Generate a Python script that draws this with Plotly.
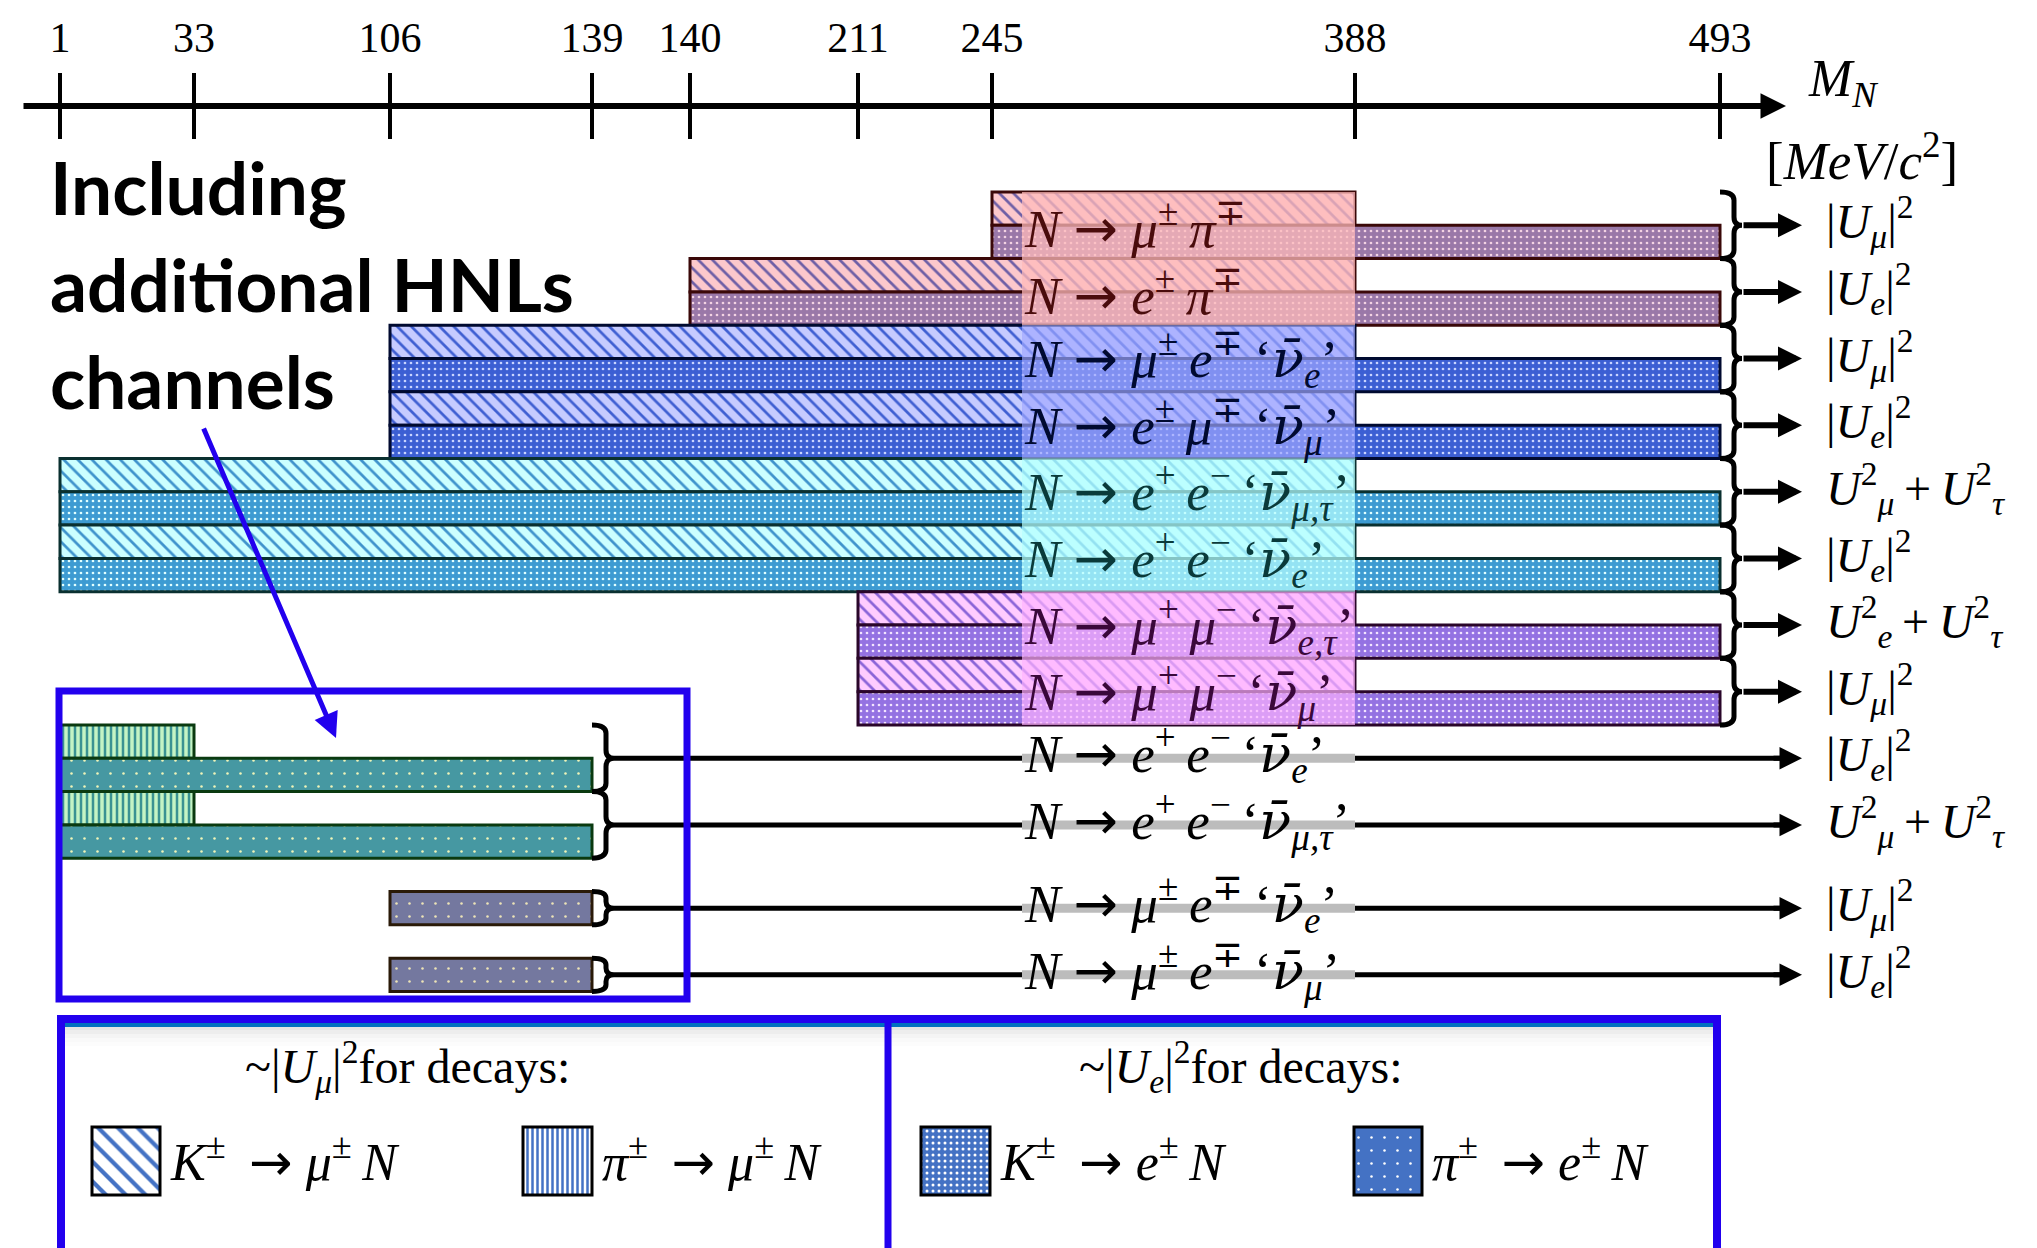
import numpy as np
import plotly.graph_objects as go

# ------------------------------------------------------------------ data
TICK_MASSES = [1, 33, 106, 139, 140, 211, 245, 388, 493]      # MeV/c^2
K_MU_LIMIT = 388      # K -> mu N
K_E_LIMIT = 493       # K -> e N
PI_MU_LIMIT = 33      # pi -> mu N
PI_E_LIMIT = 139      # pi -> e N

TS = "\u2009"
ARR = '<span style="font-family:DejaVu Sans">→</span>'
NU = '<span style="font-family:DejaVu Serif">ν̄</span>'
NUBAR_E = "‘<i>" + NU + "</i><sub><i>e</i></sub>’"
NUBAR_MU = "‘<i>" + NU + "</i><sub><i>μ</i></sub>’"
NUBAR_MUTAU = "‘<i>" + NU + "</i><sub><i>μ,τ</i></sub>’"
NUBAR_ETAU = "‘<i>" + NU + "</i><sub><i>e,τ</i></sub>’"


def sup(s):
    return "<sup>" + s + "</sup>" + TS


K_CHANNEL_LABELS = [
    "<i>N</i> " + ARR + " <i>μ</i>" + sup("±") + "<i>π</i>" + sup("∓"),
    "<i>N</i> " + ARR + " <i>e</i>" + sup("±") + "<i>π</i>" + sup("∓"),
    "<i>N</i> " + ARR + " <i>μ</i>" + sup("±") + "<i>e</i>" + sup("∓") + NUBAR_E,
    "<i>N</i> " + ARR + " <i>e</i>" + sup("±") + "<i>μ</i>" + sup("∓") + NUBAR_MU,
    "<i>N</i> " + ARR + " <i>e</i>" + sup("+") + "<i>e</i>" + sup("−") + NUBAR_MUTAU,
    "<i>N</i> " + ARR + " <i>e</i>" + sup("+") + "<i>e</i>" + sup("−") + NUBAR_E,
    "<i>N</i> " + ARR + " <i>μ</i>" + sup("+") + "<i>μ</i>" + sup("−") + NUBAR_ETAU,
    "<i>N</i> " + ARR + " <i>μ</i>" + sup("+") + "<i>μ</i>" + sup("−") + NUBAR_MU,
]
K_CHANNEL_THRESHOLDS = [245, 140, 106, 106, 1, 1, 211, 211]

U_MU2 = "|<i>U</i><sub><i>μ</i></sub>|<sup>2</sup>"
U_E2 = "|<i>U</i><sub><i>e</i></sub>|<sup>2</sup>"
U_MUTAU = "<i>U</i><sup>2</sup><sub><i>μ</i></sub>\u2009+\u2009<i>U</i><sup>2</sup><sub><i>τ</i></sub>"
U_ETAU = "<i>U</i><sup>2</sup><sub><i>e</i></sub>\u2009+\u2009<i>U</i><sup>2</sup><sub><i>τ</i></sub>"
K_CHANNEL_COUPLINGS = [U_MU2, U_E2, U_MU2, U_E2, U_MUTAU, U_E2, U_ETAU, U_MU2]

PI_CHANNEL_LABELS = [
    "<i>N</i> " + ARR + " <i>e</i>" + sup("+") + "<i>e</i>" + sup("−") + NUBAR_E,
    "<i>N</i> " + ARR + " <i>e</i>" + sup("+") + "<i>e</i>" + sup("−") + NUBAR_MUTAU,
    "<i>N</i> " + ARR + " <i>μ</i>" + sup("±") + "<i>e</i>" + sup("∓") + NUBAR_E,
    "<i>N</i> " + ARR + " <i>μ</i>" + sup("±") + "<i>e</i>" + sup("∓") + NUBAR_MU,
]
PI_CHANNEL_THRESHOLDS = [1, 1, 106, 106]
PI_CHANNEL_COUPLINGS = [U_E2, U_MUTAU, U_MU2, U_E2]

LEGEND_HEADERS = ["~" + U_MU2 + "for decays:", "~" + U_E2 + "for decays:"]
LEGEND_LABELS = ["<i>K</i>" + sup("±") + " " + ARR + " <i>μ</i>" + sup("±") + "<i>N</i>",
                 "<i>π</i>" + sup("±") + " " + ARR + " <i>μ</i>" + sup("±") + "<i>N</i>",
                 "<i>K</i>" + sup("±") + " " + ARR + " <i>e</i>" + sup("±") + "<i>N</i>",
                 "<i>π</i>" + sup("±") + " " + ARR + " <i>e</i>" + sup("±") + "<i>N</i>"]

# ------------------------------------------------------------------ layout (pixels)
W, H = 2037, 1248
TICK_SLOTS = [60, 194, 390, 592, 690, 858, 992, 1355, 1720]   # non-linear axis slots
AXIS_PX = 106
ROW_TOP_PX = 192
SUB_H_PX = 33.31
LABEL_X0 = 1022
BLUE = "#2200ee"
SERIF = "Liberation Serif"


def mx(m):
    return float(np.interp(m, TICK_MASSES, TICK_SLOTS))


def py(p):
    return (p - ROW_TOP_PX) / SUB_H_PX


K_STYLES = [  # one per pair of channels
    dict(top_bg="#fcc8cc", top_fg="#6e5fa6", bot_bg="#9a78a8", bot_fg="#f3d3e3",
         line="#3a0808", ov="rgba(255,186,186,0.74)", txt="#4a0c0c"),
    dict(top_bg="#c6cbff", top_fg="#3f5fd2", bot_bg="#3c5fd3", bot_fg="#c8d4ff",
         line="#000a30", ov="rgba(160,168,255,0.68)", txt="#000a30"),
    dict(top_bg="#ccffff", top_fg="#3f93cc", bot_bg="#3d9bd2", bot_fg="#e0ffff",
         line="#0a3030", ov="rgba(182,255,255,0.72)", txt="#0a3a3a"),
    dict(top_bg="#ffccff", top_fg="#8a64d8", bot_bg="#9472e2", bot_fg="#f2e4ff",
         line="#2a062a", ov="rgba(255,178,255,0.68)", txt="#3a083a"),
]
PI_STYLE_EE = dict(top_bg="#c4f4c4", top_fg="#3a9292", bot_bg="#4698a2", bot_fg="#eef4b8",
                   line="#0a3a10")
PI_STYLE_MUE = dict(bot_bg="#74789f", bot_fg="#ece4b6", line="#2a1a08")

fig = go.Figure()


def hbar(x0, x1, yc, width, bg, fg, shape, size, solidity, line_color, lw=3):
    fig.add_trace(go.Bar(
        orientation="h", base=[x0], x=[x1 - x0], y=[yc], width=[width],
        marker=dict(color=bg, line=dict(color=line_color, width=lw),
                    pattern=dict(shape=shape, fgcolor=fg, bgcolor=bg, size=size,
                                 solidity=solidity, fillmode="replace")),
        showlegend=False, hoverinfo="skip"))


shapes = []
annotations = []


def bracket(x0, xb, xp, y0, y1, ym, c=0.25):
    path = (f"M{x0},{y0} Q{xb},{y0} {xb},{y0 + c} L{xb},{ym - c} Q{xb},{ym} {xp},{ym} "
            f"Q{xb},{ym} {xb},{ym + c} L{xb},{y1 - c} Q{xb},{y1} {x0},{y1}")
    shapes.append(dict(type="path", path=path, xref="x", yref="y",
                       line=dict(color="black", width=5), layer="above"))


def arrow(x0, y0, x1, y1, color="black", width=6, size=0.8):
    annotations.append(dict(x=x1, y=y1, ax=x0, ay=y0, xref="x", yref="y", axref="x",
                            ayref="y", text="", showarrow=True, arrowhead=2,
                            arrowsize=size, arrowwidth=width, arrowcolor=color,
                            standoff=0, startstandoff=0))


def text(x, y, s, size, color="black", xanchor="left", family=SERIF, yref="y"):
    annotations.append(dict(x=x, y=y, xref="x", yref=yref, text=s, showarrow=False,
                            xanchor=xanchor, yanchor="middle",
                            font=dict(family=family, size=size, color=color)))


ARROW_TIP = 1802

# ---------------- kaon-produced HNL channels
x_end = mx(K_E_LIMIT)
for i, (lab, thr, cpl) in enumerate(zip(K_CHANNEL_LABELS, K_CHANNEL_THRESHOLDS,
                                         K_CHANNEL_COUPLINGS)):
    st = K_STYLES[i // 2]
    k = 2 * i
    hbar(mx(thr), mx(K_MU_LIMIT), k + 0.5, 1.0, st["top_bg"], st["top_fg"], "\\", 10, 0.27,
         st["line"])
    hbar(mx(thr), mx(K_E_LIMIT), k + 1.5, 1.0, st["bot_bg"], st["bot_fg"], ".", 6, 0.16,
         st["line"])
    bracket(x_end, x_end + 14, x_end + 22, k, k + 2, k + 1)
    arrow(x_end + 22, k + 1, ARROW_TIP, k + 1)
    text(1824, k + 1 - 0.1, cpl, 48)

for p in range(4):
    st = K_STYLES[p]
    shapes.append(dict(type="rect", xref="x", yref="y", x0=LABEL_X0, x1=mx(K_MU_LIMIT),
                       y0=4 * p, y1=4 * p + 4, fillcolor=st["ov"], line=dict(width=0),
                       layer="above"))
for i, lab in enumerate(K_CHANNEL_LABELS):
    text(LABEL_X0, 2 * i + 1 + 0.02, lab, 53, K_STYLES[i // 2]["txt"])

# ---------------- pion-produced HNL channels
pi_end = mx(PI_E_LIMIT)
for j, (lab, thr, cpl) in enumerate(zip(PI_CHANNEL_LABELS, PI_CHANNEL_THRESHOLDS,
                                         PI_CHANNEL_COUPLINGS)):
    k = 16 + 2 * j
    has_top = thr < PI_MU_LIMIT
    st = PI_STYLE_EE if has_top else PI_STYLE_MUE
    if has_top:
        hbar(mx(thr), mx(PI_MU_LIMIT), k + 0.5, 1.0, st["top_bg"], st["top_fg"], "|", 6,
             0.42, st["line"])
    hbar(mx(thr), pi_end, k + 1.5, 1.0, st["bot_bg"], st["bot_fg"], ".", 13, 0.03,
         st["line"])
    y0, ym = (k, k + 1) if has_top else (k + 1, k + 1.5)
    bracket(pi_end, pi_end + 14, pi_end + 22, y0, k + 2, ym, c=0.25 if has_top else 0.2)
    shapes.append(dict(type="line", xref="x", yref="y", x0=pi_end + 22, x1=ARROW_TIP - 12,
                       y0=ym, y1=ym, line=dict(color="black", width=5), layer="above"))
    shapes.append(dict(type="line", xref="x", yref="y", x0=LABEL_X0, x1=mx(K_MU_LIMIT),
                       y0=ym, y1=ym, line=dict(color="#bcbcbc", width=9), layer="above"))
    arrow(ARROW_TIP - 30, ym, ARROW_TIP, ym, width=5, size=0.9)
    text(LABEL_X0, ym - 0.12, lab, 53)
    text(1824, ym - 0.1, cpl, 48)

# ---------------- mass axis
arrow(22, py(AXIS_PX), 1786, py(AXIS_PX), width=6, size=0.85)
text(1806, py(82), "<i>M</i><sub><i>N</i></sub>", 52)
text(1862, py(157), "[<i>MeV</i>/<i>c</i><sup>2</sup>]", 53, xanchor="center")

# ---------------- "Including additional HNLs channels"
for s, base in zip(["Including", "additional HNLs", "channels"], [213, 310, 407]):
    text(48, py(base - 26), "<b>" + s + "</b>", 73, family="Lato")
arrow(203, py(427), 336, py(738), color=BLUE, width=5, size=1.0)
shapes.append(dict(type="rect", xref="x", yref="y", x0=59, x1=687, y0=py(691), y1=py(999),
                   line=dict(color=BLUE, width=7), layer="above"))

# ---------------- legend panel
for g, a in enumerate([0.10, 0.07, 0.045, 0.025, 0.012]):
    shapes.append(dict(type="rect", xref="x", yref="y", x0=65, x1=1714,
                       y0=py(1026 + 4 * g), y1=py(1030 + 4 * g),
                       fillcolor=f"rgba(0,0,0,{a})", line=dict(width=0), layer="below"))
shapes.append(dict(type="line", xref="x", yref="y", x0=61, x1=1717, y0=py(1025),
                   y1=py(1025), line=dict(color="#0070c0", width=4)))
shapes.append(dict(type="rect", xref="x", yref="y", x0=61, x1=1717, y0=py(1019),
                   y1=py(1262), line=dict(color=BLUE, width=8)))
shapes.append(dict(type="line", xref="x", yref="y", x0=888, x1=888, y0=py(1019),
                   y1=py(1262), line=dict(color=BLUE, width=7)))

SW_Y = py(1161)
SW_H = 68 / SUB_H_PX
swatches = [(92, 160, "white", "#4472c4", "\\", 14, 0.3),
            (523, 592, "white", "#4472c4", "|", 5, 0.5),
            (921, 990, "#4472c4", "white", ".", 6, 0.2),
            (1354, 1422, "#4472c4", "white", ".", 13, 0.03)]
for (x0, x1, bg, fg, shp, sz, sol) in swatches:
    hbar(x0, x1, SW_Y, SW_H, bg, fg, shp, sz, sol, "black", lw=3)
for (x0, x1, *_), lab in zip(swatches, LEGEND_LABELS):
    text(x1 + 8, SW_Y - 0.05, lab, 52)
text(407, py(1066), LEGEND_HEADERS[0], 48, xanchor="center")
text(1240, py(1066), LEGEND_HEADERS[1], 48, xanchor="center")

# dummy trace to activate the lower tick axis
fig.add_trace(go.Scatter(x=[TICK_SLOTS[0]], y=[py(AXIS_PX)], xaxis="x2", mode="markers",
                         marker=dict(opacity=0), showlegend=False, hoverinfo="skip"))

axis_pos = 1 - AXIS_PX / H
fig.update_layout(
    width=W, height=H, margin=dict(l=0, r=0, t=0, b=0),
    paper_bgcolor="white", plot_bgcolor="white", barmode="overlay", showlegend=False,
    xaxis=dict(range=[0, W], domain=[0, 1], anchor="free", position=axis_pos, side="top",
               showgrid=False, zeroline=False, showline=False, tickmode="array",
               tickvals=TICK_SLOTS, ticktext=[str(m) for m in TICK_MASSES],
               ticks="outside", ticklen=33, tickwidth=4, tickcolor="black",
               tickfont=dict(family=SERIF, size=42, color="black"), ticklabelstandoff=4),
    xaxis2=dict(matches="x", overlaying="x", anchor="free", position=axis_pos, side="top",
                showgrid=False, zeroline=False, showline=False, tickmode="array",
                tickvals=TICK_SLOTS, ticks="inside", ticklen=32, tickwidth=4,
                tickcolor="black", showticklabels=False),
    yaxis=dict(range=[py(H), py(0)], domain=[0, 1], visible=False, showgrid=False,
               zeroline=False),
    shapes=shapes, annotations=annotations,
)

fig.write_html("out.html", config={"displayModeBar": False},
               post_script="document.body.style.margin='0';"
                           "document.body.style.overflow='hidden';")
